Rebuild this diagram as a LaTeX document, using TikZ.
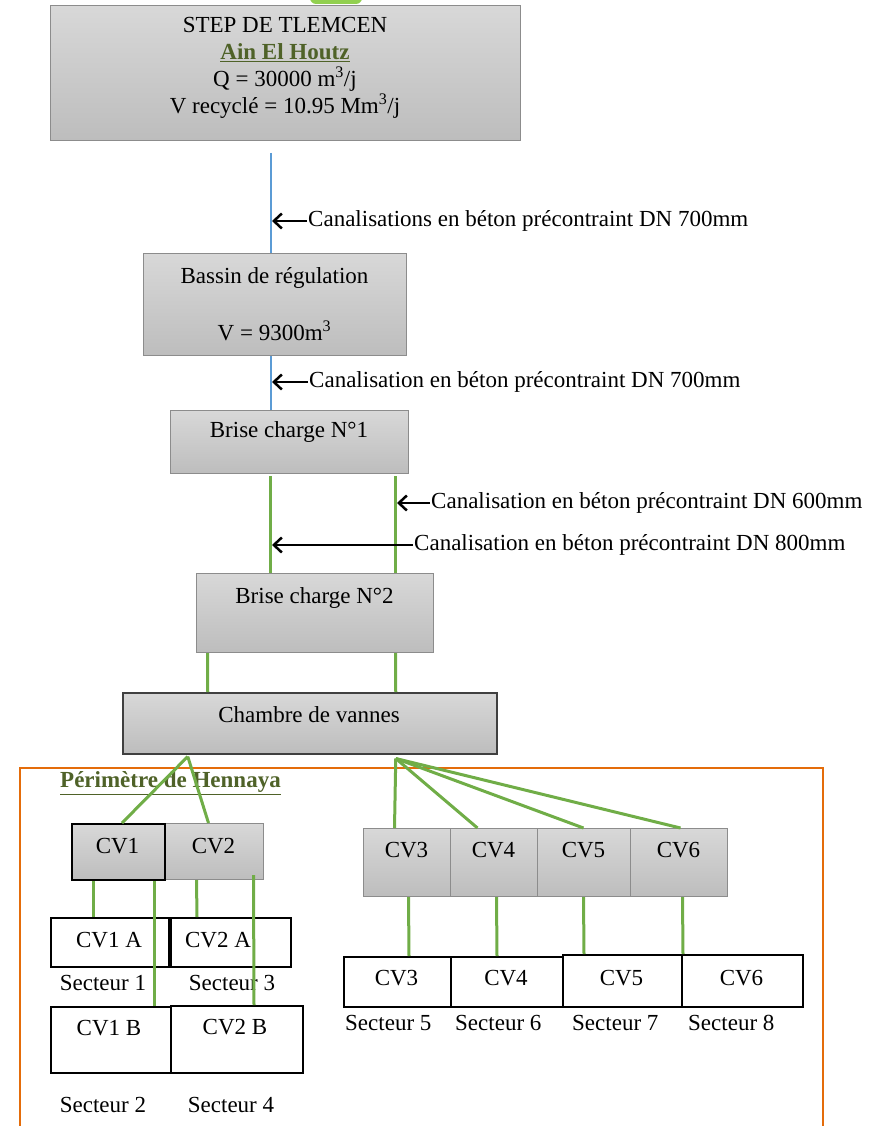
\documentclass[tikz,border=0pt]{standalone}
\usepackage{fontspec}
\setmainfont{Liberation Serif}
\usepackage{xcolor}
\usepackage{tikz}
\usetikzlibrary{positioning, calc, arrows.meta}

\definecolor{vertfonce}{HTML}{4F6228}
\definecolor{vertligne}{HTML}{70AD47}
\definecolor{bleuligne}{HTML}{5B9BD5}
\definecolor{orangecadre}{HTML}{E46C0A}
\definecolor{grishaut}{HTML}{D8D8D8}
\definecolor{grisbas}{HTML}{BDBDBD}
\definecolor{bordgris}{HTML}{8C8C8C}
\definecolor{vertlime}{HTML}{92D050}

\tikzset{
  boite/.style={draw=bordgris, line width=1pt, top color=grishaut, bottom color=grisbas, inner sep=0pt, anchor=north west},
  blanche/.style={draw=black, line width=2pt, fill=white, inner sep=0pt, anchor=north west},
  txt/.style={inner sep=0pt, align=center},
  lbl/.style={inner sep=1pt, anchor=west},
  tuyau/.style={vertligne, line width=3pt},
  tuyaubleu/.style={bleuligne, line width=2pt},
  fleche/.style={-{Straight Barb[length=8pt, width=15pt]}, line width=2.5pt},
}

\begin{document}
\begin{tikzpicture}[x=1pt, y=-1pt, font=\fontsize{23}{27}\selectfont]
    \useasboundingbox (0,0) rectangle (873,1126);

    % bout vert en haut
    \fill[vertlime, rounded corners=6pt] (310,-10) rectangle (362,4);

    % cadre du perimetre
    \draw[orangecadre, line width=1.5pt] (20,1130) -- (20,768) -- (823,768) -- (823,1130);
    \node[lbl, inner sep=0pt] (perim) at (60,783) {\textbf{\color{vertfonce}\underline{Périmètre de Hennaya}}};

    % station et ouvrages
    \node[boite, minimum width=470pt, minimum height=135pt] (step) at (50,5) {};
    \node[txt] (stepT) at (285,68) {STEP DE TLEMCEN\\{\bfseries\color{vertfonce}\underline{Ain El Houtz}}\\Q = 30000 m\textsuperscript{3}/j\\V recyclé = 10.95 Mm\textsuperscript{3}/j};

    \node[boite, minimum width=263pt, minimum height=102pt] (bassin) at (143,253) {};
    \node[txt] (bassinT) at (274.5,304) {Bassin de régulation\\[30pt]V = 9300m\textsuperscript{3}};

    \node[boite, minimum width=238pt, minimum height=63pt] (bc1) at (170,410) {};
    \node[txt] (bc1T) at (289,432) {Brise charge N°1};

    \node[boite, minimum width=237pt, minimum height=79pt] (bc2) at (196,573) {};
    \node[txt] (bc2T) at (314.5,598) {Brise charge N°2};

    \node[boite, draw=black!75, line width=1.5pt, minimum width=374pt, minimum height=61pt] (chambre) at (122,692) {};
    \node[txt] (chambreT) at (309,715) {Chambre de vannes};

    % perimetre gauche
    \node[boite, minimum width=99pt, minimum height=56pt] (cv2) at (164,823) {};
    \node[boite, draw=black, line width=2pt, minimum width=93pt, minimum height=56pt] (cv1) at (71,823) {};
    \node[txt] (cv1T) at (117.5,846) {CV1};
    \node[txt] (cv2T) at (213.5,846) {CV2};

    \node[blanche, minimum width=118pt, minimum height=49pt] (cv1a) at (50,917) {};
    \node[blanche, minimum width=120pt, minimum height=49pt] (cv2a) at (170,917) {};
    \node[txt] (cv1aT) at (109,940) {CV1 A};
    \node[txt] (cv2aT) at (218,940) {CV2 A};
    \node[txt] (sect1) at (103,983) {Secteur 1};
    \node[txt] (sect3) at (232,983) {Secteur 3};

    \node[blanche, minimum width=120pt, minimum height=66pt] (cv1b) at (50,1006) {};
    \node[blanche, minimum width=132pt, minimum height=67pt] (cv2b) at (170,1005) {};
    \node[txt] (cv1bT) at (109,1028) {CV1 B};
    \node[txt] (cv2bT) at (235,1027) {CV2 B};
    \node[txt] (sect2) at (103,1105) {Secteur 2};
    \node[txt] (sect4) at (231,1105) {Secteur 4};

    % perimetre droit
    \foreach \n/\xa/\xb in {3/363/450, 4/450/537, 5/537/630, 6/630/727} {
      \node[boite, minimum width={\xb-\xa}, minimum height=68pt] (cv\n) at (\xa,828) {};
      \node[txt] (cv\n T) at ({(\xa+\xb)/2},850) {CV\n};
    }
    \foreach \n/\xa/\xb/\ya/\s/\xs in {3/343/450/956/5/345, 4/450/562/956/6/455, 5/562/681/954/7/572, 6/681/802/954/8/688} {
      \node[blanche, minimum width={\xb-\xa}, minimum height={1006-\ya}] (bas\n) at (\xa,\ya) {};
      \node[txt] (bas\n T) at ({(\xa+\xb)/2},978) {CV\n};
      \node[lbl, inner sep=0pt] (sect\s) at (\xs,1023) {Secteur \s};
    }

    % canalisations
    \draw[tuyaubleu] ([shift={(-15pt,-12pt)}]step.south) -- ([xshift=-4.5pt]bassin.north);
    \draw[tuyaubleu] ([xshift=-4.5pt]bassin.south) -- ([xshift=-19pt]bc1.north);
    \draw[tuyau] ([shift={(-19pt,-2pt)}]bc1.south) -- ([xshift=-44.5pt]bc2.north);
    \draw[tuyau] ([shift={(106pt,-2pt)}]bc1.south) -- ([xshift=80.5pt]bc2.north);
    \draw[tuyau] ([xshift=-107.5pt]bc2.south) -- ([xshift=-102pt]chambre.north);
    \draw[tuyau] ([xshift=80.5pt]bc2.south) -- ([xshift=86pt]chambre.north);

    \coordinate (v1) at ([shift={(-122pt,-2pt)}]chambre.south);
    \coordinate (v2) at ([shift={(86pt,-4pt)}]chambre.south);
    \draw[tuyau] (v1) -- ([xshift=3.5pt]cv1.north);
    \draw[tuyau] (v1) -- ([xshift=-5.5pt]cv2.north);
    \draw[tuyau] (v2) -- ([xshift=-12.5pt]cv3.north);
    \draw[tuyau] (v2) -- ([xshift=-16.5pt]cv4.north);
    \draw[tuyau] (v2) -- ([xshift=-0.5pt]cv5.north);
    \draw[tuyau] (v2) -- ([xshift=1.5pt]cv6.north);

    \draw[tuyau] ([xshift=-25.5pt]cv1.south) -- ([xshift=-17pt]cv1a.north);
    \draw[tuyau] ([xshift=35.5pt]cv1.south) -- ([xshift=43pt]cv1b.north);
    \draw[tuyau] ([xshift=-17.5pt]cv2.south) -- ([xshift=-34pt]cv2a.north);
    \draw[tuyau] ([shift={(39.5pt,5pt)}]cv2.south) -- ([xshift=17pt]cv2b.north);

    \draw[tuyau] ([xshift=1.5pt]cv3.south) -- ([xshift=11.5pt]bas3.north);
    \draw[tuyau] ([xshift=2.5pt]cv4.south) -- ([xshift=-10pt]bas4.north);
    \draw[tuyau] ([xshift=-0.5pt]cv5.south) -- ([xshift=-38.5pt]bas5.north);
    \draw[tuyau] ([xshift=3.5pt]cv6.south) -- ([xshift=-59.5pt]bas6.north);

    % legendes des conduites
    \node[lbl] (can1) at (307,221) {Canalisations en béton précontraint DN 700mm};
    \coordinate (p1) at (272,221);
    \draw[fleche] (can1.west) -- (p1);

    \node[lbl] (can2) at (308,382) {Canalisation en béton précontraint DN 700mm};
    \coordinate (p2) at (272,382);
    \draw[fleche] (can2.west) -- (p2);

    \node[lbl] (can3) at (430,503) {Canalisation en béton précontraint DN 600mm};
    \coordinate (p3) at (397,503);
    \draw[fleche] (can3.west) -- (p3);

    \node[lbl] (can4) at (413,545) {Canalisation en béton précontraint DN 800mm};
    \coordinate (p4) at (272,545);
    \draw[fleche] (can4.west) -- (p4);
  \end{tikzpicture}
\end{document}
